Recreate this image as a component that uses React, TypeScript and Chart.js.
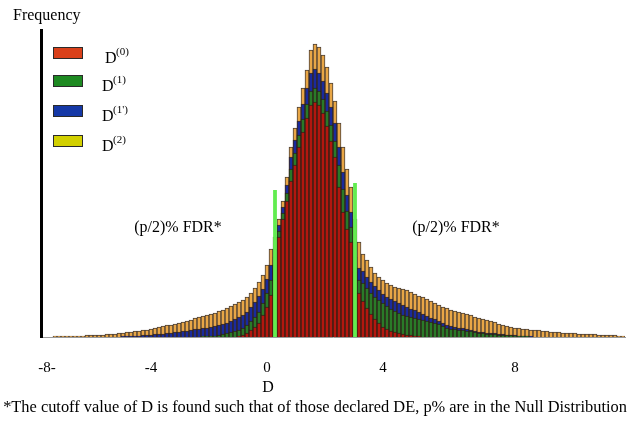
import React, { useEffect, useRef } from "react";
import { Chart, registerables } from "chart.js";

Chart.register(...registerables);

// Histogram bins (146 bins across the D axis)
const orangeD2 = [
  0, 0, 0, 1, 1, 1, 1, 1, 1, 1,
  1, 2, 2, 2, 2, 2, 3, 3, 3, 4,
  4, 5, 5, 6, 6, 7, 7, 8, 9, 10,
  11, 12, 12, 13, 14, 15, 16, 17, 19, 20,
  21, 22, 23, 24, 26, 27, 29, 31, 33, 35,
  37, 40, 44, 49, 55, 62, 72, 88, 100, 118,
  136, 160, 190, 209, 230, 249, 267, 287, 293, 290,
  282, 270, 254, 236, 214, 190, 168, 150, 118, 95,
  83, 77, 70, 64, 60, 57, 54, 52, 50, 49,
  48, 47, 45, 43, 41, 40, 38, 36, 34, 32,
  30, 29, 27, 26, 25, 24, 23, 22, 20, 19,
  18, 17, 16, 15, 13, 12, 11, 10, 9, 9,
  8, 8, 7, 7, 7, 6, 6, 5, 5, 5,
  4, 4, 4, 4, 3, 3, 3, 3, 3, 2,
  2, 2, 2, 2, 1, 1,
];

const blueD1p = [
  0, 0, 0, 0, 0, 0, 0, 0, 0, 0,
  0, 0, 0, 0, 0, 0, 0, 0, 0, 0,
  1, 1, 1, 1, 1, 2, 2, 2, 3, 3,
  3, 4, 4, 5, 5, 6, 6, 7, 8, 8,
  9, 9, 10, 11, 12, 13, 14, 16, 18, 20,
  22, 25, 30, 35, 41, 48, 58, 72, 88, 112,
  130, 152, 180, 197, 216, 233, 249, 264, 268, 264,
  256, 244, 230, 214, 190, 165, 142, 125, 95, 69,
  66, 60, 55, 51, 47, 43, 40, 38, 36, 34,
  32, 30, 28, 27, 25, 23, 21, 19, 18, 16,
  14, 12, 11, 10, 9, 9, 8, 7, 6, 5,
  5, 4, 4, 4, 3, 3, 2, 2, 2, 1,
  1, 1, 1, 0, 0, 0, 0, 0, 0, 0,
  0, 0, 0, 0, 0, 0, 0, 0, 0, 0,
  0, 0, 0, 0, 0, 0,
];

const greenD1 = [
  0, 0, 0, 0, 0, 0, 0, 0, 0, 0,
  0, 0, 0, 0, 0, 0, 0, 0, 0, 0,
  0, 0, 0, 0, 0, 0, 0, 0, 0, 0,
  0, 0, 0, 0, 0, 0, 0, 0, 0, 0,
  1, 1, 1, 1, 2, 3, 4, 5, 6, 7,
  9, 12, 16, 20, 25, 34, 44, 57, 80, 106,
  124, 144, 168, 184, 202, 218, 233, 246, 249, 246,
  238, 226, 212, 196, 172, 148, 126, 110, 80, 57,
  54, 49, 44, 40, 37, 34, 31, 28, 26, 24,
  22, 21, 20, 19, 18, 17, 16, 15, 14, 13,
  11, 9, 8, 8, 7, 7, 6, 6, 5, 4,
  4, 3, 3, 3, 2, 2, 2, 2, 1, 1,
  1, 1, 0, 0, 0, 0, 0, 0, 0, 0,
  0, 0, 0, 0, 0, 0, 0, 0, 0, 0,
  0, 0, 0, 0, 0, 0,
];

const redD0 = [
  0, 0, 0, 0, 0, 0, 0, 0, 0, 0,
  0, 0, 0, 0, 0, 0, 0, 0, 0, 0,
  0, 0, 0, 0, 0, 0, 0, 0, 0, 0,
  0, 0, 0, 0, 0, 0, 0, 0, 0, 0,
  0, 0, 0, 0, 0, 0, 0, 0, 0, 1,
  2, 4, 7, 10, 14, 22, 30, 42, 72, 100,
  118, 136, 156, 172, 190, 205, 219, 232, 235, 232,
  224, 211, 196, 180, 150, 125, 108, 95, 65, 44,
  36, 29, 23, 18, 14, 10, 8, 6, 5, 4,
  3, 2, 2, 1, 1, 0, 0, 0, 0, 0,
  0, 0, 0, 0, 0, 0, 0, 0, 0, 0,
  0, 0, 0, 0, 0, 0, 0, 0, 0, 0,
  0, 0, 0, 0, 0, 0, 0, 0, 0, 0,
  0, 0, 0, 0, 0, 0, 0, 0, 0, 0,
  0, 0, 0, 0, 0, 0,
];

// FDR cutoff markers (bin index -> marker height)
const cutoffBins = [58, 78];
const cutoffHeights = [147, 154];

// X tick labels and the bins they sit on
const tickLabels = ["-8-", "-4", "0", "4", "8"];
const tickBins = [1, 27, 56, 85, 118];

const legendSup = ["(0)", "(1)", "(1')", "(2)"];
const legendColors = ["#D9401A", "#1E8A22", "#1538A6", "#D2D000"];

const SERIF = '"Liberation Serif", "Times New Roman", serif';

const binLabels = orangeD2.map((_, i) => `bin ${i}`);
const cutoffData = orangeD2.map((_, i) => {
  const k = cutoffBins.indexOf(i);
  return k >= 0 ? cutoffHeights[k] : null;
});

const textPlugin = {
  id: "textPlugin",
  afterDraw(chart: any) {
    const ctx = chart.ctx as CanvasRenderingContext2D;
    ctx.save();
    ctx.fillStyle = "#000";
    ctx.textAlign = "left";
    ctx.textBaseline = "alphabetic";
    ctx.font = `16px ${SERIF}`;
    ctx.fillText("Frequency", 13, 20);

    const tops = [47, 75, 105, 135];
    legendColors.forEach((c, k) => {
      const y = tops[k];
      ctx.fillStyle = c;
      ctx.fillRect(53, y, 30, 12);
      ctx.strokeStyle = "#2a2a2a";
      ctx.lineWidth = 1;
      ctx.strokeRect(53.5, y + 0.5, 29, 11);
      ctx.fillStyle = "#000";
      ctx.font = `16px ${SERIF}`;
      ctx.fillText("D", k === 0 ? 105 : 102, y + 16);
      ctx.font = `11px ${SERIF}`;
      ctx.fillText(legendSup[k], k === 0 ? 116 : 113, y + 8);
    });

    ctx.font = `16px ${SERIF}`;
    ctx.textAlign = "center";
    ctx.textBaseline = "middle";
    ctx.fillText("(p/2)% FDR*", 178, 228);
    ctx.fillText("(p/2)% FDR*", 456, 228);

    ctx.fillText("D", 268, 388);
    ctx.font = `16.4px ${SERIF}`;
    ctx.fillText(
      "*The cutoff value of D is found such that of those declared DE, p% are in the Null Distribution",
      315,
      408
    );
    ctx.restore();
  },
};

export default function App() {
  const ref = useRef<HTMLCanvasElement | null>(null);

  useEffect(() => {
    if (!ref.current) return;
    const barBorder = "rgba(45,30,20,0.85)";
    const chart = new Chart(ref.current, {
      type: "bar",
      data: {
        labels: binLabels,
        datasets: [
          {
            label: "cutoff",
            data: cutoffData as any,
            backgroundColor: "#62EC50",
            borderWidth: 0,
            barPercentage: 0.95,
            categoryPercentage: 1,
          },
          {
            label: "D(0)",
            data: redD0,
            backgroundColor: "#B3170F",
            borderColor: barBorder,
            borderWidth: 1,
            barPercentage: 1,
            categoryPercentage: 1,
          },
          {
            label: "D(1)",
            data: greenD1,
            backgroundColor: "#2A7A28",
            borderColor: barBorder,
            borderWidth: 1,
            barPercentage: 1,
            categoryPercentage: 1,
          },
          {
            label: "D(1')",
            data: blueD1p,
            backgroundColor: "#1A2A9C",
            borderColor: barBorder,
            borderWidth: 1,
            barPercentage: 1,
            categoryPercentage: 1,
          },
          {
            label: "D(2)",
            data: orangeD2,
            backgroundColor: "#E8A646",
            borderColor: barBorder,
            borderWidth: 1,
            barPercentage: 1,
            categoryPercentage: 1,
          },
        ],
      },
      options: {
        animation: false,
        responsive: false,
        devicePixelRatio: 1,
        layout: { padding: { left: 41, right: 4, top: 30, bottom: 47 } },
        datasets: { bar: { grouped: false } } as any,
        plugins: {
          legend: { display: false },
          tooltip: { enabled: false },
          title: { display: false },
        },
        scales: {
          x: {
            grid: { display: false, drawTicks: false },
            border: { display: true, color: "#9a9a9a", width: 1 },
            afterFit: (scale: any) => {
              scale.height = 40;
              scale.paddingLeft = 0;
              scale.paddingRight = 0;
            },
            ticks: {
              autoSkip: false,
              maxRotation: 0,
              minRotation: 0,
              padding: 22,
              color: "#000",
              font: { family: SERIF, size: 15 },
              callback: (_v: any, index: number) => {
                const k = tickBins.indexOf(index);
                return k >= 0 ? tickLabels[k] : "";
              },
            },
          },
          y: {
            min: 0,
            max: 307,
            grid: { display: false, drawTicks: false },
            border: { display: true, color: "#000", width: 3 },
            ticks: { display: false },
            afterFit: (scale: any) => {
              scale.width = 0;
            },
          },
        },
      },
      plugins: [textPlugin],
    });
    return () => chart.destroy();
  }, []);

  return (
    <div style={{ position: "fixed", left: 0, top: 0, width: 629, height: 424, background: "#fff" }}>
      <canvas ref={ref} width={629} height={424} style={{ width: 629, height: 424 }} />
    </div>
  );
}
